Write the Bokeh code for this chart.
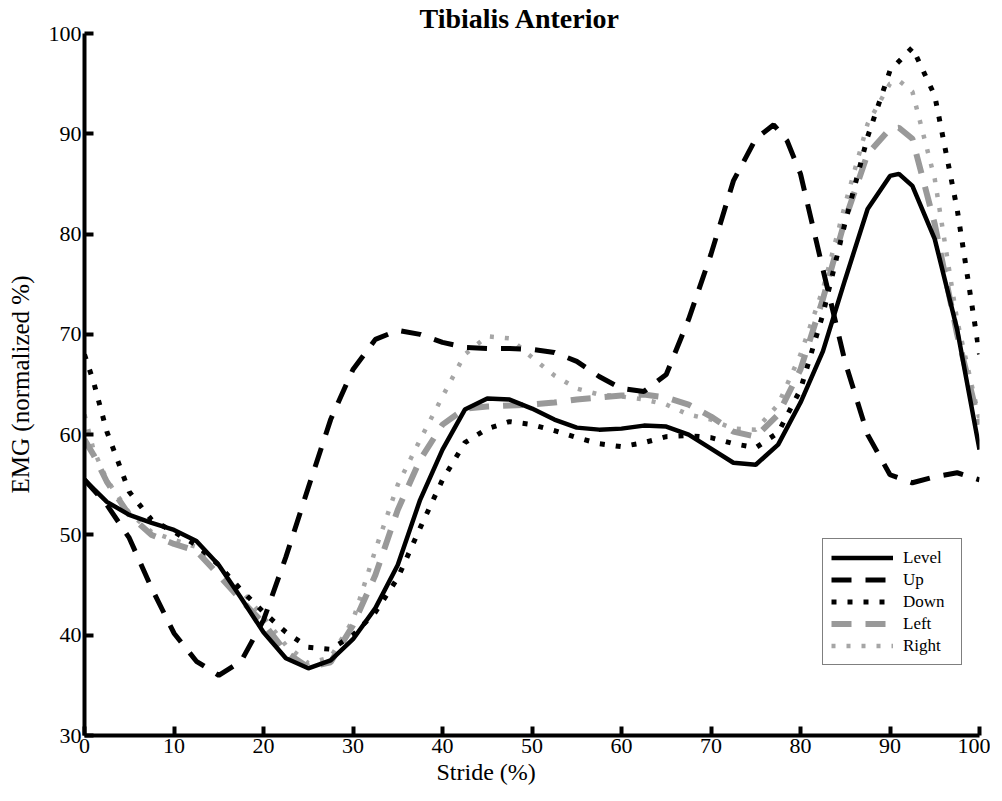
from bokeh.plotting import figure
from bokeh.models import Range1d, Legend, LegendItem, Title, FixedTicker
from bokeh.embed import file_html
from bokeh.resources import INLINE

title_text = "Tibialis Anterior"
x_label = "Stride (%)"
y_label = "EMG (normalized %)"
x_ticks = [0, 10, 20, 30, 40, 50, 60, 70, 80, 90, 100]
y_ticks = [30, 40, 50, 60, 70, 80, 90, 100]

level_x = [0, 2.5, 5, 7.5, 10, 12.5, 15, 17.5, 20, 22.5, 25, 27.5, 30, 32.5, 35, 37.5, 40, 42.5, 45, 47.5,
           50, 52.5, 55, 57.5, 60, 62.5, 65, 67.5, 70, 72.5, 75, 77.5, 80, 82.5, 85, 87.5, 90, 91, 92.5, 95, 97.5, 100]
level_y = [55.5, 53.3, 52.0, 51.2, 50.5, 49.4, 47.0, 43.7, 40.3, 37.7, 36.7, 37.5, 39.6, 42.7, 47.0, 53.5, 58.5, 62.5, 63.6, 63.5,
           62.6, 61.5, 60.7, 60.5, 60.6, 60.9, 60.8, 60.0, 58.6, 57.2, 57.0, 59.0, 63.2, 68.3, 75.5, 82.5, 85.8, 86.0, 84.8, 79.5, 70.5, 58.5]

up_x = [0, 2.5, 5, 7.5, 10, 12.5, 15, 17.5, 20, 22.5, 25, 27.5, 30, 32.5, 35, 37.5, 40, 42.5, 45, 47.5,
        50, 52.5, 55, 57.5, 60, 62.5, 65, 67.5, 70, 72.5, 75, 77, 78.5, 80, 82.5, 85, 87.5, 90, 92.5, 95, 97.5, 100]
up_y = [55.5, 53.0, 49.7, 44.7, 40.2, 37.4, 36.0, 37.4, 41.5, 47.8, 54.7, 61.5, 66.5, 69.5, 70.4, 70.0, 69.2, 68.7, 68.6, 68.6,
        68.5, 68.2, 67.3, 65.8, 64.6, 64.3, 66.0, 71.5, 78.0, 85.3, 89.5, 90.9, 89.3, 86.0, 76.5, 67.2, 60.0, 56.0, 55.2, 55.8, 56.2, 55.5]

down_x = [0, 1, 2.5, 5, 7.5, 10, 12.5, 15, 17.5, 20, 22.5, 25, 27.5, 30, 32.5, 35, 37.5, 40, 42.5, 45, 47.5,
          50, 52.5, 55, 57.5, 60, 62.5, 65, 67.5, 70, 72.5, 75, 77.5, 80, 82.5, 85, 87.5, 90, 92.5, 95, 97.5, 100]
down_y = [68.0, 65.3, 60.3, 54.3, 51.5, 50.3, 49.0, 47.0, 44.5, 42.3, 40.3, 38.8, 38.6, 40.0, 42.3, 45.7, 50.7, 55.5, 59.2, 60.6, 61.3,
          61.0, 60.4, 59.7, 59.1, 58.8, 59.2, 59.8, 59.9, 59.7, 59.1, 58.7, 60.2, 64.5, 72.0, 81.2, 89.7, 96.3, 98.6, 93.8, 82.5, 68.0]

left_x = [0, 1, 2.5, 5, 7.5, 10, 12.5, 15, 17.5, 20, 22.5, 25, 27.5, 30, 32.5, 35, 37.5, 40, 42.5, 45, 47.5,
          50, 52.5, 55, 57.5, 60, 62.5, 65, 67.5, 70, 72.5, 75, 77.5, 80, 82.5, 85, 87.5, 90, 91, 92.5, 95, 97.5, 100]
left_y = [59.5, 58.0, 55.3, 52.0, 50.0, 49.1, 48.4, 46.0, 43.5, 41.2, 38.3, 36.8, 37.3, 41.0, 46.0, 52.5, 57.5, 61.0, 62.6, 62.8, 62.9,
          63.0, 63.2, 63.5, 63.7, 63.9, 64.0, 63.7, 63.0, 61.8, 60.3, 59.8, 62.0, 66.5, 73.5, 81.5, 88.0, 90.5, 90.6, 89.5, 81.0, 70.0, 61.0]

right_x = [0, 1, 2.5, 5, 7.5, 10, 12.5, 15, 17.5, 20, 22.5, 25, 27.5, 30, 32.5, 35, 37.5, 40, 42.5, 45, 47.5,
           50, 52.5, 55, 57.5, 60, 62.5, 65, 67.5, 70, 72.5, 75, 77.5, 80, 82.5, 85, 87.5, 90, 91, 92.5, 95, 97.5, 100]
right_y = [62.0, 58.5, 55.5, 52.2, 50.3, 49.5, 48.8, 47.0, 44.5, 41.8, 39.0, 37.2, 37.8, 41.5, 48.5, 55.0, 59.5, 63.8, 68.0, 69.8, 69.6,
           67.7, 65.9, 64.6, 64.0, 63.8, 63.5, 63.0, 62.0, 61.5, 60.6, 60.5, 63.0, 68.0, 74.5, 83.0, 91.0, 95.0, 95.3, 94.2, 85.5, 71.4, 61.5]

FONT = "Liberation Serif"

p = figure(width=990, height=793, x_range=Range1d(0, 100), y_range=Range1d(30, 100),
           output_backend="svg", toolbar_location=None,
           min_border_left=84, min_border_right=11, min_border_top=30, min_border_bottom=58)
p.outline_line_color = None
p.xgrid.grid_line_color = None
p.ygrid.grid_line_color = None
p.background_fill_color = "white"
p.border_fill_color = "white"

p.title.text = title_text
p.title.text_font = FONT
p.title.text_font_size = "28px"
p.title.text_font_style = "bold"
p.title.text_color = "black"
p.title.align = "left"
p.title.offset = 335
p.title.standoff = 0

for ax in (p.xaxis[0], p.yaxis[0]):
    ax.axis_line_width = 4
    ax.axis_line_color = "black"
    ax.major_tick_in = 9
    ax.major_tick_out = 0
    ax.major_tick_line_width = 4
    ax.major_tick_line_color = "black"
    ax.minor_tick_line_color = None
    ax.major_label_text_font = FONT
    ax.major_label_text_font_size = "22px"
    ax.major_label_text_color = "black"
    ax.axis_label_text_font = FONT
    ax.axis_label_text_font_size = "25px"
    ax.axis_label_text_font_style = "normal"
    ax.axis_label_text_color = "black"

p.xaxis[0].ticker = FixedTicker(ticks=x_ticks)
p.yaxis[0].ticker = FixedTicker(ticks=y_ticks)
p.xaxis[0].major_label_standoff = 3
p.yaxis[0].major_label_standoff = 3
p.yaxis[0].axis_label = y_label
p.yaxis[0].axis_label_standoff = 12

r_right = p.line(right_x, right_y, line_color="#a6a6a6", line_width=4.5, line_dash="4 11")
r_left = p.line(left_x, left_y, line_color="#999999", line_width=6, line_dash="20 14")
r_down = p.line(down_x, down_y, line_color="black", line_width=5, line_dash="5 11")
r_up = p.line(up_x, up_y, line_color="black", line_width=5, line_dash="20 14")
r_level = p.line(level_x, level_y, line_color="black", line_width=4.5)

legend = Legend(items=[
    LegendItem(label="Level", renderers=[r_level]),
    LegendItem(label="Up", renderers=[r_up]),
    LegendItem(label="Down", renderers=[r_down]),
    LegendItem(label="Left", renderers=[r_left]),
    LegendItem(label="Right", renderers=[r_right]),
], location=(738, 70))
legend.border_line_color = "black"
legend.border_line_width = 1.5
legend.background_fill_alpha = 1
legend.padding = 8
legend.spacing = 1
legend.margin = 0
legend.glyph_width = 62
legend.glyph_height = 21
legend.label_height = 21
legend.label_width = 50
legend.label_standoff = 10
legend.label_text_font = FONT
legend.label_text_font_size = "17px"
legend.label_text_color = "black"
p.add_layout(legend, "center")

xtitle = Title(text=x_label, align="left", offset=352, standoff=2,
               text_font=FONT, text_font_size="24px", text_font_style="normal", text_color="black")
p.add_layout(xtitle, "below")

open("out.html", "w").write(file_html(p, INLINE))
